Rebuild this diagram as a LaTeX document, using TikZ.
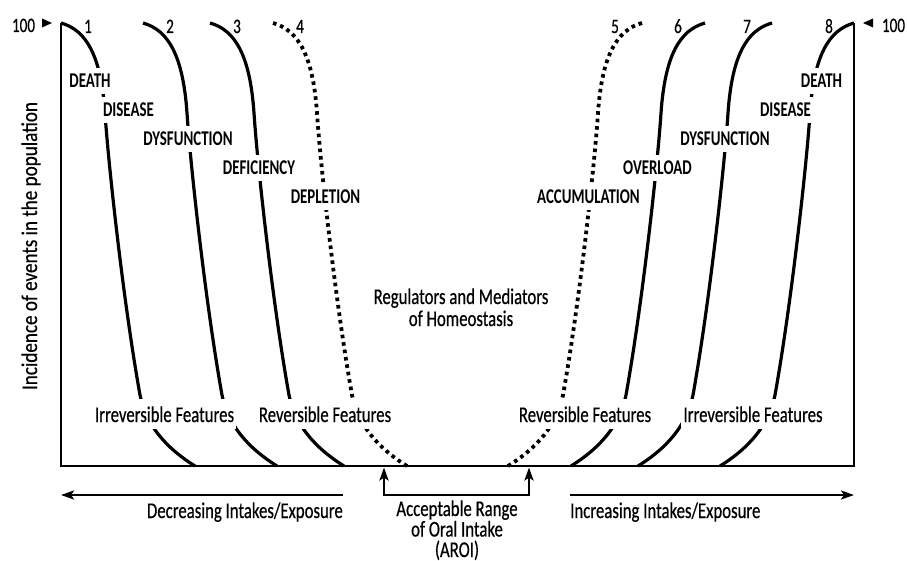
\documentclass[tikz,border=0pt]{standalone}
\usepackage{fontspec}
\setmainfont{Carlito}
\newfontfamily\regf[FakeStretch=0.745,FakeBold=0.5]{Carlito}
\newfontfamily\cndf[FakeStretch=0.71]{Carlito}
\newfontfamily\numf[FakeStretch=0.74,FakeBold=0.5]{Carlito}
\newfontfamily\rotf[FakeStretch=0.85,FakeBold=0.5]{Carlito}
\usetikzlibrary{arrows.meta}
\tikzset{
  sig/.pic={\draw (0,23) .. controls (25,30) and (40,55) .. (44,113)
      .. controls (47,160) and (62,300) .. (79,395)
      .. controls (85,425) and (105,448) .. (134,466);},
  solidc/.style={line width=3.2pt},
  dotc/.style={line width=3.8pt, line cap=butt, dash pattern=on 3.6pt off 3.9pt},
  axisl/.style={line width=2.6pt},
  arrl/.style={line width=2.6pt},
  bl/.style={font=\cndf\bfseries\fontsize{21}{24}\selectfont, fill=white, inner xsep=2pt, inner ysep=6pt, anchor=base},
  rl/.style={font=\regf\fontsize{22.5}{24}\selectfont, fill=white, inner xsep=2pt, inner ysep=7pt, anchor=base},
  txt/.style={font=\regf\fontsize{22.5}{24}\selectfont, inner sep=0pt, anchor=base},
  numl/.style={font=\numf\fontsize{20.5}{24}\selectfont, inner sep=0pt, anchor=base},
}
\begin{document}
\begin{tikzpicture}[x=1pt,y=-1pt]
\useasboundingbox (0,0) rectangle (907,561);
% axes box
\coordinate (tl) at (61,23);
\coordinate (bl) at (61,466);
\coordinate (br) at (854,466);
\coordinate (tr) at (854,23);
\draw[axisl] (tl) -- (bl) -- (br) -- (tr);
% curves left
\pic[solidc] at (61,0) {sig};
\pic[solidc] at (143,0) {sig};
\pic[solidc] at (210,0) {sig};
\pic[dotc] at (273,0) {sig};
% curves right (mirrored)
\pic[dotc, xscale=-1] at (642,0) {sig};
\pic[solidc, xscale=-1] at (705,0) {sig};
\pic[solidc, xscale=-1] at (772,0) {sig};
\pic[solidc, xscale=-1] at (854,0) {sig};
% markers 100
\node[numl] (h100l) at (23.5,32) {100};
\node[numl] (h100r) at (893.5,32) {100};
\fill (42,18.5) -- (52,23) -- (42,27.5) -- cycle;
\fill (873,18.5) -- (863,23) -- (873,27.5) -- cycle;
% curve numbers
\node[numl] (n1) at (88,33) {1};
\node[numl] (n2) at (170,33) {2};
\node[numl] (n3) at (237,33) {3};
\node[numl] (n4) at (300,33) {4};
\node[numl] (n5) at (615,33) {5};
\node[numl] (n6) at (678,33) {6};
\node[numl] (n7) at (747,33) {7};
\node[numl] (n8) at (829,33) {8};
% bold labels left
\node[bl] (l1) at (90,88) {DEATH};
\node[bl] (l2) at (128.5,117) {DISEASE};
\node[bl] (l3) at (188,146) {DYSFUNCTION};
\node[bl] (l4) at (259,175) {DEFICIENCY};
\node[bl] (l5) at (325.5,204) {DEPLETION};
% bold labels right
\node[bl] (r1) at (821.5,88) {DEATH};
\node[bl] (r2) at (785.5,117) {DISEASE};
\node[bl] (r3) at (725,146) {DYSFUNCTION};
\node[bl] (r4) at (657.5,175) {OVERLOAD};
\node[bl] (r5) at (588.5,204) {ACCUMULATION};
% feature labels
\node[rl] (f1) at (164.5,422) {Irreversible Features};
\node[rl] (f2) at (325,422) {Reversible Features};
\node[rl] (f3) at (585,422) {Reversible Features};
\node[rl] (f4) at (753,422) {Irreversible Features};
% center text
\node[txt, align=center, font=\regf\fontsize{22.5}{22}\selectfont] (reg) at (461,326) {Regulators and Mediators\\of Homeostasis};
% y-axis label
\node[font=\rotf\fontsize{22.5}{24}\selectfont, inner sep=0pt, anchor=base, rotate=90] (ylab) at (37,246) {Incidence of events in the population};
% bottom arrows
\coordinate (dS) at (343,495);
\coordinate (dE) at (61,495);
\coordinate (iS) at (570,495);
\coordinate (iE) at (854,495);
\draw[arrl, -{Stealth[length=13pt,width=9pt,inset=3pt]}] (dS) -- (dE);
\draw[arrl, -{Stealth[length=13pt,width=9pt,inset=3pt]}] (iS) -- (iE);
\node[txt, anchor=base east] (dec) at (343,518) {Decreasing Intakes/Exposure};
\node[txt, anchor=base west] (inc) at (570,518) {Increasing Intakes/Exposure};
% AROI bracket
\coordinate (aL) at (384,467.5);
\coordinate (aLb) at (384,495);
\coordinate (aRb) at (529,495);
\coordinate (aR) at (529,467.5);
\draw[arrl, {Stealth[length=13pt,width=9pt,inset=3pt]}-{Stealth[length=13pt,width=9pt,inset=3pt]}] (aL) -- (aLb) -- (aRb) -- (aR);
\node[txt, align=center, font=\regf\fontsize{22.5}{20.5}\selectfont] (aroi) at (457,557) {Acceptable Range\\of Oral Intake\\(AROI)};
\end{tikzpicture}
\end{document}
